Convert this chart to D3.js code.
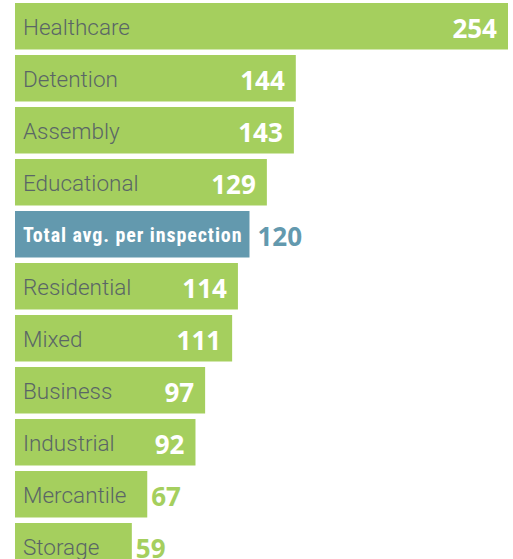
<!DOCTYPE html>
<html>
<head>
<meta charset="utf-8">
<script src="https://cdn.jsdelivr.net/npm/d3@7"></script>
<style>
  body { margin: 0; background: #fff; }
  svg { display: block; }
</style>
</head>
<body>
<div id="chart"></div>
<script>
// Data
const categories = ["Healthcare", "Detention", "Assembly", "Educational", "Total avg. per inspection",
                    "Residential", "Mixed", "Business", "Industrial", "Mercantile", "Storage"];
const values = [254, 144, 143, 129, 120, 114, 111, 97, 92, 67, 59];
const highlight = ["Total avg. per inspection"];

const width = 513, height = 559;
const green = "#a5cf5e", blue = "#6399ae", grey = "#5a6666";

const data = categories.map((c, i) => ({ name: c, value: values[i], total: highlight.includes(c) }));

const svg = d3.select("#chart")
  .append("svg")
  .attr("width", width)
  .attr("height", height);

// Rows every 52px, bars 46.5px tall
const step = 52, barH = 46.5;
const y = d3.scaleBand()
  .domain(categories)
  .range([3, 3 + step * (categories.length - 1) + barH])
  .paddingInner((step - barH) / step)
  .paddingOuter(0);

const x = d3.scaleLinear()
  .domain([0, d3.max(values)])
  .range([18, 508]);

const x0 = 15;

const row = svg.selectAll("g.row")
  .data(data)
  .enter()
  .append("g")
  .attr("class", "row")
  .attr("transform", d => `translate(0,${y(d.name)})`);

row.append("rect")
  .attr("x", x0)
  .attr("y", 0)
  .attr("width", d => x(d.value) - x0)
  .attr("height", y.bandwidth())
  .attr("fill", d => d.total ? blue : green);

const mid = y.bandwidth() / 2;

// Category labels inside the bar
row.append("text")
  .attr("x", 23)
  .attr("y", d => d.total ? mid + 7.5 : mid + 8.5)
  .attr("fill", d => d.total ? "#fff" : grey)
  .style("font-family", d => d.total
    ? "'Roboto Condensed', 'Liberation Sans Narrow', 'DejaVu Sans Condensed', Roboto, sans-serif"
    : "Roboto, 'Open Sans', sans-serif")
  .style("font-weight", d => d.total ? "bold" : 300)
  .style("letter-spacing", d => d.total ? "0.9px" : "0px")
  .style("font-size", d => d.total ? "20px" : "22.5px")
  .text(d => d.name);

// Values: inside the bar if there is room, else just after it
row.each(function(d) {
  const g = d3.select(this);
  const labelEnd = 23 + g.select("text").node().getComputedTextLength();
  const t = g.append("text")
    .attr("y", mid + 12)
    .style("font-family", "'Open Sans', Roboto, sans-serif")
    .style("font-weight", "bold")
    .style("font-size", "26px")
    .text(d.value);
  const w = t.node().getComputedTextLength();
  const end = x(d.value);
  if (labelEnd + 10 + w < end - 11) {
    t.attr("x", end - 11).attr("text-anchor", "end").attr("fill", "#fff");
  } else {
    t.attr("x", end + (d.total ? 8 : 4)).attr("text-anchor", "start")
      .attr("fill", d.total ? blue : green);
  }
});
</script>
</body>
</html>
